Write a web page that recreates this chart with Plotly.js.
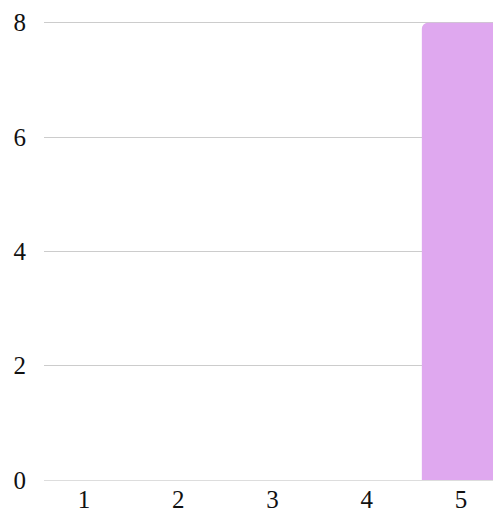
<!DOCTYPE html>
<html>
<head>
<meta charset="utf-8">
<script src="https://cdn.plot.ly/plotly-3.0.1.min.js"></script>
<style>html,body{margin:0;padding:0;background:#fff;}#chart{width:493px;height:513px;}</style>
</head>
<body>
<div id="chart"></div>
<script>
const categories = [5];
const values = [8];
const xTicks = [1, 2, 3, 4, 5];
const yTicks = [0, 2, 4, 6, 8];

const trace = {
  type: 'bar',
  x: categories,
  y: values,
  width: 0.83,
  marker: {color: '#dfa8ef', cornerradius: 6, line: {width: 0}},
  hoverinfo: 'none'
};

const layout = {
  width: 493,
  height: 513,
  margin: {l: 44, r: 0, t: 21, b: 33, pad: 0},
  paper_bgcolor: '#ffffff',
  plot_bgcolor: '#ffffff',
  showlegend: false,
  font: {family: '"Liberation Serif", "Times New Roman", serif', size: 25, color: '#111'},
  xaxis: {
    range: [0.576, 5.34],
    tickvals: xTicks,
    ticktext: xTicks.map(String),
    showgrid: false,
    zeroline: false,
    showline: false,
    ticks: '',
    ticklabelstandoff: 2,
    fixedrange: true
  },
  yaxis: {
    range: [0, 8.03],
    tickvals: yTicks,
    ticktext: yTicks.map(String),
    showgrid: true,
    gridcolor: '#cccccc',
    gridwidth: 1,
    zeroline: true,
    zerolinecolor: '#dddddd',
    zerolinewidth: 1,
    showline: false,
    ticks: '',
    ticklabelstandoff: 17,
    fixedrange: true
  }
};

Plotly.newPlot('chart', [trace], layout, {displayModeBar: false, staticPlot: true});
</script>
</body>
</html>
